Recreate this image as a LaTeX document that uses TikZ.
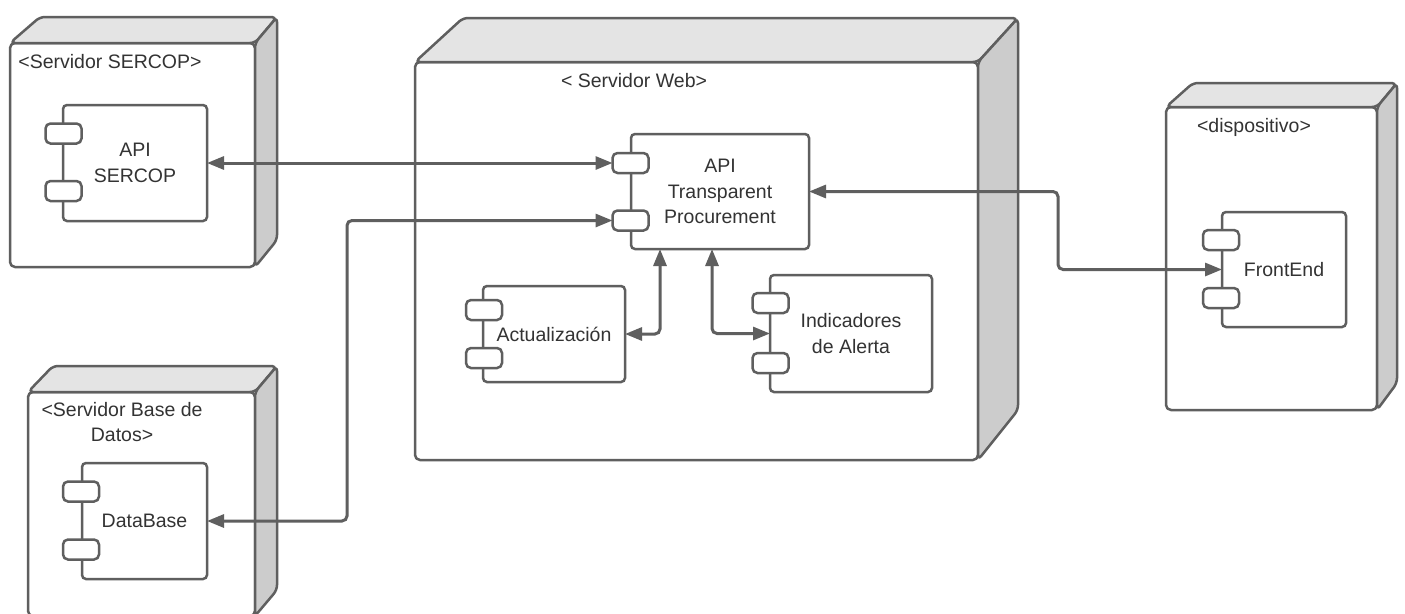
\documentclass[tikz,border=0pt]{standalone}
\usepackage{fontspec}
\setmainfont{Liberation Sans}
\usetikzlibrary{arrows.meta}
\definecolor{ln}{HTML}{5F5F5F}
\definecolor{topc}{HTML}{E4E4E4}
\definecolor{sidec}{HTML}{CCCCCC}
\definecolor{txt}{HTML}{333333}
\begin{document}
\begin{tikzpicture}[x=1pt,y=-1pt,
 face/.style={draw=ln, line width=2.5pt, rounded corners=5pt, line join=round},
 comp/.style={draw=ln, fill=white, line width=2.5pt, rounded corners=4pt, rectangle, inner sep=0pt, outer sep=0pt, align=center, font=\fontsize{19.5}{25.5}\selectfont, text=txt},
 port/.style={draw=ln, fill=white, line width=2.5pt, rounded corners=5pt, rectangle, minimum width=36pt, minimum height=20pt, inner sep=0pt, outer sep=0pt},
 lbl/.style={font=\fontsize{19.5}{25.5}\selectfont, text=txt, align=center, inner sep=0pt},
 link/.style={draw=ln, line width=3pt, rounded corners=5pt, {Triangle[length=17pt,width=13pt]}-{Triangle[length=17pt,width=13pt]}},
]
\useasboundingbox (0,0) rectangle (1405,613);
\fill[white] (0,0) rectangle (1405,613);

% ---- Servidor SERCOP
\draw[face, fill=white] (10,43) rectangle (255,267);
\draw[face, fill=topc] (10,43) -- (40,17) -- (277,17) -- (255,43) -- cycle;
\draw[face, fill=sidec] (255,43) -- (277,17) -- (277,240) -- (255,267) -- cycle;
\node[lbl] (l1) at (110,62) {<Servidor SERCOP>};

% ---- Servidor Web
\draw[face, fill=white] (415,62) rectangle (978,460);
\draw[face, fill=topc] (415,62) -- (463,18) -- (1018,18) -- (978,62) -- cycle;
\draw[face, fill=sidec] (978,62) -- (1018,18) -- (1018,410) -- (978,460) -- cycle;
\node[lbl] (l2) at (634,81) {< Servidor Web>};

% ---- dispositivo
\draw[face, fill=white] (1166,107) rectangle (1377,410);
\draw[face, fill=topc] (1166,107) -- (1193,83) -- (1397,83) -- (1377,107) -- cycle;
\draw[face, fill=sidec] (1377,107) -- (1397,83) -- (1397,383) -- (1377,410) -- cycle;
\node[lbl] (l3) at (1254,127) {<dispositivo>};

% ---- Servidor Base de Datos
\draw[face, fill=white] (28,392) rectangle (255,616);
\draw[face, fill=topc] (28,392) -- (53,366) -- (277,366) -- (255,392) -- cycle;
\draw[face, fill=sidec] (255,392) -- (277,366) -- (277,590) -- (255,616) -- cycle;
\node[lbl] (l4) at (122,422) {<Servidor Base de\\Datos>};

% ---- components
\node[comp, minimum width=144pt, minimum height=116pt] (apis) at (135,163) {API\\SERCOP};
\node[port] (apis1) at (63.5,133.5) {};
\node[port] (apis2) at (63.5,191) {};

\node[comp, minimum width=178pt, minimum height=115pt] (tp) at (720,191.5) {API\\Transparent\\Procurement};
\node[port] (tp1) at (630.5,163) {};
\node[port] (tp2) at (630.5,220.5) {};

\node[comp, minimum width=142pt, minimum height=96pt] (act) at (554,334) {Actualización};
\node[port] (act1) at (484,310) {};
\node[port] (act2) at (484,358) {};

\node[comp, minimum width=162pt, minimum height=117pt] (ind) at (851,333.5) {Indicadores\\de Alerta};
\node[port] (ind1) at (770.5,303) {};
\node[port] (ind2) at (770.5,363) {};

\node[comp, minimum width=124pt, minimum height=115pt] (fe) at (1284,269.5) {FrontEnd};
\node[port] (fe1) at (1221,240) {};
\node[port] (fe2) at (1221,298) {};

\node[comp, minimum width=125pt, minimum height=116pt] (db) at (144.5,521) {DataBase};
\node[port] (db1) at (81,491.5) {};
\node[port] (db2) at (81,549.5) {};

% ---- connectors
\coordinate (j1) at (347,0);
\coordinate (j2) at (1058,0);
\coordinate (j3) at (660,0);
\coordinate (j4) at (712,0);

\draw[link] (apis.east) -- (apis.east -| tp1.west);
\draw[link] (db.east) -| (j1 |- tp2.west) -- (tp2.west);
\draw[link] (tp.east) -| (j2 |- fe.west) -- (fe.west);
\draw[link] (act.east) -| (j3 |- tp.south);
\draw[link] (j4 |- tp.south) |- (ind.west);
\end{tikzpicture}
\end{document}
